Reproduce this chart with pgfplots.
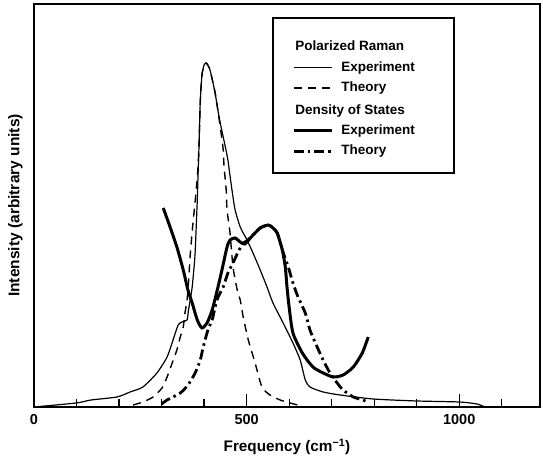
\documentclass[border=0pt]{standalone}
\usepackage{fontspec}
\setmainfont{Liberation Sans}
\usepackage{pgfplots}
\pgfplotsset{compat=1.18}

\pgfplotsset{
  ramanexp/.style={black, line width=1.2pt},
  ramanth/.style={black, line width=1.4pt, dash pattern=on 8pt off 6pt},
  dosexp/.style={black, line width=3pt},
  dosth/.style={black, line width=2.8pt, dash pattern=on 10pt off 4pt on 2.5pt off 4pt},
}

\begin{document}
\begin{tikzpicture}
\begin{axis}[
  scale only axis,
  width=506pt, height=403pt,
  xmin=0, xmax=1190, ymin=0, ymax=403,
  axis line style={line width=1.3pt},
  xtick={0,500,1000}, xticklabels={0,500,1000},
  minor xtick={100,200,...,1100},
  ytick=\empty,
  xtick pos=left, tick align=inside,
  major tick length=13pt, minor tick length=8pt,
  every tick/.style={black, line width=1.2pt},
  x tick label style={font=\fontsize{14.5}{16}\selectfont\bfseries, yshift=-4pt},
  xlabel={Frequency (cm\textsuperscript{−1})},
  ylabel={Intensity (arbitrary units)},
  every axis x label/.style={at={(axis description cs:0.5,-0.0993)}, anchor=center,
    font=\fontsize{15.3}{17}\selectfont\bfseries},
  every axis y label/.style={at={(axis description cs:-0.0366,0.5)}, rotate=90, anchor=center,
    font=\fontsize{15.5}{17}\selectfont\bfseries},
  legend style={at={(0.510,0.9082)}, anchor=north west, draw=none, fill=none,
    inner sep=0pt, row sep=7.5pt, font=\fontsize{13.5}{15}\selectfont\bfseries,
    nodes={inner sep=0pt, text depth=3pt},
    /tikz/every odd column/.append style={column sep=8pt}},
  legend cell align=left,
  legend image code/.code={\draw[#1, line cap=butt] (0pt,0pt) -- (38pt,0pt);},
]
\addlegendimage{empty legend}\addlegendentry{\rule{0pt}{9.5pt}\hspace*{-46pt}Polarized Raman}
\addlegendimage{ramanexp}\addlegendentry{\rule{0pt}{9.5pt}Experiment}
\addlegendimage{ramanth}\addlegendentry{\rule{0pt}{9.5pt}Theory}
\addlegendimage{empty legend}\addlegendentry{\rule{0pt}{12pt}\hspace*{-46pt}Density of States}
\addlegendimage{dosexp}\addlegendentry{\rule{0pt}{9.5pt}Experiment}
\addlegendimage{dosth}\addlegendentry{\rule{0pt}{9.5pt}Theory}

% Polarized Raman, experiment
\addplot[ramanexp, smooth, tension=0.4, forget plot] table {
0 0
99 4
134 7
195 10
226 15
256 20
289 34
313 50
327 67
339 82
348 85
360 87
363 96
367 106
372 120
376 138
379 155
384 207
386 235
388 260
391 305
395 332
400 342
405 344
410 341
414 337
420 326
426 314
432 298
438 284
445 270
451 258
456 247
462 228
468 210
473 197
485 180
501 167
515 154
532 137
548 120
562 104
586 84
609 64
626 47
638 27
649 20
680 15
720 12
798 8
901 6
1000 5
1042 3
1060 0
};

% Polarized Raman, theory
\addplot[ramanth, smooth, tension=0.4, forget plot] table {
233 2
256 5
280 10
301 19
313 30
325 44
336 57
344 70
351 80
355 94
360 107
364 128
367 150
373 180
380 210
385 235
388 260
391 305
395 332
400 342
405 344
410 341
414 337
420 326
426 314
432 298
440 274
445 257
447 240
452 217
454 197
461 174
468 140
478 117
485 107
492 90
504 67
520 44
536 20
555 12
579 7
602 4
630 1
};

% Density of states, experiment
\addplot[dosexp, smooth, tension=0.4, forget plot] table {
304 199
320 180
336 160
351 137
362 117
372 104
384 87
395 79
407 84
419 97
431 117
442 137
454 160
461 167
473 169
485 165
496 163
513 171
532 179
551 182
562 179
572 174
584 157
591 140
595 120
600 100
609 74
631 54
656 40
680 34
704 30
727 32
751 40
772 54
786 70
};

% Density of states, theory
\addplot[dosth, smooth, tension=0.4, forget plot] table {
300 3
313 7
344 14
362 22
379 34
391 47
398 60
409 77
419 87
426 100
433 110
445 120
456 134
468 144
480 155
492 164
500 166
513 171
532 179
551 182
562 179
572 174
584 157
598 140
609 124
621 110
638 94
649 77
666 60
680 47
696 34
713 24
727 17
751 10
774 7
784 5
};

\draw[line width=1.3pt] (axis cs:562,389) rectangle (axis cs:988,234);
\coordinate (SW) at (rel axis cs:0,0);
\coordinate (NE) at (rel axis cs:1,1);
\end{axis}
\pgfresetboundingbox
\path ([shift={(-34pt,-50pt)}]SW) rectangle ([shift={(3pt,4pt)}]NE);
\end{tikzpicture}
\end{document}
